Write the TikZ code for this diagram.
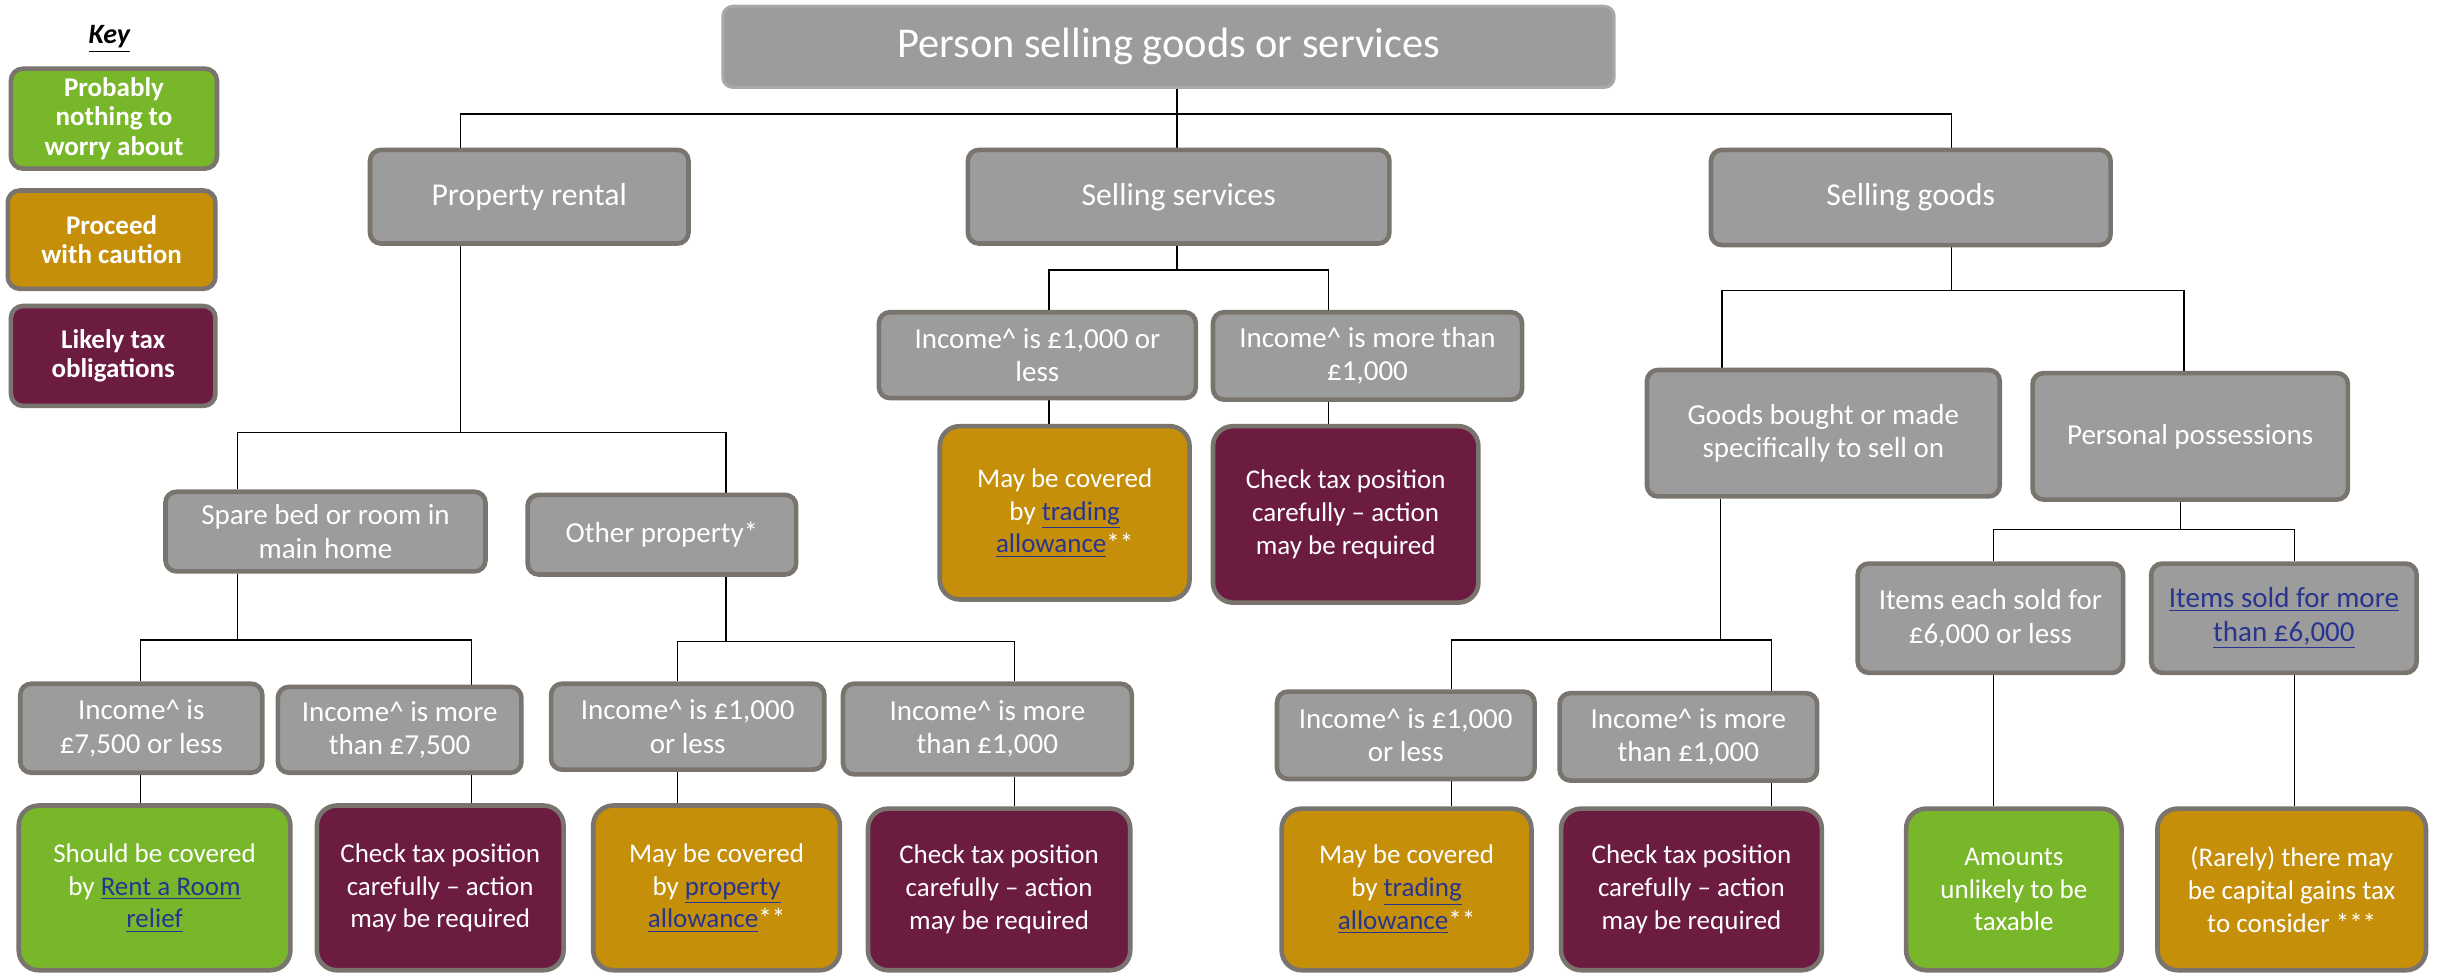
\documentclass[tikz,border=0pt]{standalone}
\usepackage{fontspec}
\setmainfont{Carlito}
\usetikzlibrary{backgrounds}
\definecolor{gfill}{HTML}{9C9C9C}
\definecolor{bcol}{HTML}{7A746E}
\definecolor{tborder}{HTML}{A9A9A9}
\definecolor{cgreen}{HTML}{78B72A}
\definecolor{corange}{HTML}{C58F0A}
\definecolor{cmaroon}{HTML}{6C1B41}
\definecolor{linkblue}{HTML}{27358F}
\newcommand\lnk[1]{{\color{linkblue}\underline{#1}}}
\newcommand\bx[7]{%
  \pgfmathsetmacro\bxw{(#4-#2)*0.7805}%
  \pgfmathsetmacro\bxh{(#5-#3)*0.7805}%
  \node[#6, minimum width=\bxw pt, minimum height=\bxh pt] (#1) at ({(#2+#4)/2},{(#3+#5)/2}) {#7};}
\tikzset{
  gbox/.style={draw=bcol, line width=2.3pt, fill=gfill, rounded corners=5.5pt, text=white,
    align=center, inner sep=0pt, font=\fontsize{14.5}{16.8}\selectfont},
  midbox/.style={gbox, font=\fontsize{15.9}{19}\selectfont},
  leaf/.style={draw=bcol, line width=2.3pt, rounded corners=10pt, text=white,
    align=center, inner sep=0pt, font=\fontsize{13.5}{16.4}\selectfont},
  keybox/.style={draw=bcol, line width=2.3pt, rounded corners=6pt, text=white,
    align=center, inner sep=0pt, font=\fontsize{13.5}{14.8}\selectfont\bfseries},
  titlebox/.style={fill=gfill, draw=tborder, line width=1.5pt, rounded corners=5pt, text=white,
    inner sep=0pt, font=\fontsize{21.2}{25}\selectfont},
  conn/.style={draw=black, line width=0.6pt},
}
\begin{document}
\begin{tikzpicture}[x=0.7805pt, y=-0.7805pt]
\useasboundingbox (0,0) rectangle (1563,623.3);
% key
\node[font=\fontsize{14}{16}\selectfont\bfseries\itshape] (key) at (70,25) {\underline{Key}};
\bx{k1}{7}{44}{139}{108}{keybox,fill=cgreen}{Probably\\nothing to\\worry about}
\bx{k2}{5}{122}{138}{185}{keybox,fill=corange}{Proceed\\with caution}
\bx{k3}{7}{196}{138}{260}{keybox,fill=cmaroon}{Likely tax\\obligations}
% title
\bx{t}{463}{4}{1034}{56}{titlebox}{Person selling goods or services}
% level 1
\bx{pr}{237}{96}{441}{156}{midbox}{Property rental}
\bx{ss}{620}{96}{890}{156}{midbox}{Selling services}
\bx{sg}{1096}{96}{1352}{157}{midbox}{Selling goods}
% property
\bx{sb}{106}{315}{311}{366}{gbox}{Spare bed or room in\\main home}
\bx{op}{338}{317}{510}{368}{gbox}{Other property*}
\bx{i1}{13}{438}{168}{495}{gbox}{Income\textasciicircum{} is\\£7,500 or less}
\bx{i2}{178}{440}{334}{495}{gbox}{Income\textasciicircum{} is more\\than £7,500}
\bx{i3}{353}{438}{528}{493}{gbox}{Income\textasciicircum{} is £1,000\\or less}
\bx{i4}{540}{438}{725}{496}{gbox}{Income\textasciicircum{} is more\\than £1,000}
\bx{l1}{12}{516}{186}{621.5}{leaf,fill=cgreen}{Should be covered\\by \lnk{Rent a Room}\\\lnk{relief}}
\bx{l2}{203}{516}{361}{621.5}{leaf,fill=cmaroon}{Check tax position\\carefully – action\\may be required}
\bx{l3}{380}{516}{538}{621.5}{leaf,fill=corange}{May be covered\\by \lnk{property}\\\lnk{allowance}**}
\bx{l4}{556}{518}{724}{621.5}{leaf,fill=cmaroon}{Check tax position\\carefully – action\\may be required}
% services
\bx{s1}{563}{200}{766}{255}{gbox}{Income\textasciicircum{} is £1,000 or\\less}
\bx{s2}{777}{200}{975}{256}{gbox}{Income\textasciicircum{} is more than\\£1,000}
\bx{s3}{602}{273}{762}{384}{leaf,fill=corange}{May be covered\\by \lnk{trading}\\\lnk{allowance}**}
\bx{s4}{777}{273}{947}{386}{leaf,fill=cmaroon}{Check tax position\\carefully – action\\may be required}
% goods
\bx{gb}{1055}{237}{1281}{318}{gbox}{Goods bought or made\\specifically to sell on}
\bx{pp}{1302}{239}{1504}{320}{gbox}{Personal possessions}
\bx{g1}{818}{443}{983}{499}{gbox}{Income\textasciicircum{} is £1,000\\or less}
\bx{g2}{999}{444}{1164}{500}{gbox}{Income\textasciicircum{} is more\\than £1,000}
\bx{g3}{821}{518}{981}{621.5}{leaf,fill=corange}{May be covered\\by \lnk{trading}\\\lnk{allowance}**}
\bx{g4}{1000}{518}{1167}{621.5}{leaf,fill=cmaroon}{Check tax position\\carefully – action\\may be required}
\bx{p1}{1190}{361}{1360}{431}{gbox}{Items each sold for\\£6,000 or less}
\bx{p2}{1378}{361}{1548}{431}{gbox}{\lnk{Items sold for more}\\\lnk{than £6,000}}
\bx{a1}{1221}{518}{1359}{621.5}{leaf,fill=cgreen}{Amounts\\unlikely to be\\taxable}
\bx{a2}{1382}{518}{1554}{621.5}{leaf,fill=corange}{(Rarely) there may\\be capital gains tax\\to consider ***}
% connectors
\begin{scope}[on background layer]
\coordinate (j0) at (754,73);
\draw[conn] (t.south -| j0) -- (j0);
\draw[conn] (pr.north -| 295,0) |- (j0);
\draw[conn] (ss.north -| j0) -- (j0);
\draw[conn] (sg.north -| 1250,0) |- (j0);
\coordinate (j1) at (295,277);
\draw[conn] (pr.south -| j1) -- (j1);
\draw[conn] (sb.north -| 152,0) |- (j1);
\draw[conn] (op.north -| 465,0) |- (j1);
\coordinate (j2) at (152,410);
\draw[conn] (sb.south -| j2) -- (j2);
\draw[conn] (i1.north -| 90,0) |- (j2);
\draw[conn] (i2.north -| 302,0) |- (j2);
\coordinate (j3) at (465,411);
\draw[conn] (op.south -| j3) -- (j3);
\draw[conn] (i3.north -| 434,0) |- (j3);
\draw[conn] (i4.north -| 650,0) |- (j3);
\draw[conn] (i1.south -| 90,0) -- (l1.north -| 90,0);
\draw[conn] (i2.south -| 302,0) -- (l2.north -| 302,0);
\draw[conn] (i3.south -| 434,0) -- (l3.north -| 434,0);
\draw[conn] (i4.south -| 650,0) -- (l4.north -| 650,0);
\coordinate (j4) at (754,173);
\draw[conn] (ss.south -| j4) -- (j4);
\draw[conn] (s1.north -| 672,0) |- (j4);
\draw[conn] (s2.north -| 851,0) |- (j4);
\draw[conn] (s1.south -| 672,0) -- (s3.north -| 672,0);
\draw[conn] (s2.south -| 851,0) -- (s4.north -| 851,0);
\coordinate (j5) at (1250,186);
\draw[conn] (sg.south -| j5) -- (j5);
\draw[conn] (gb.north -| 1103,0) |- (j5);
\draw[conn] (pp.north -| 1399,0) |- (j5);
\coordinate (j6) at (1102,410);
\draw[conn] (gb.south -| j6) -- (j6);
\draw[conn] (g1.north -| 930,0) |- (j6);
\draw[conn] (g2.north -| 1135,0) |- (j6);
\draw[conn] (g1.south -| 930,0) -- (g3.north -| 930,0);
\draw[conn] (g2.south -| 1135,0) -- (g4.north -| 1135,0);
\coordinate (j7) at (1397,339);
\draw[conn] (pp.south -| j7) -- (j7);
\draw[conn] (p1.north -| 1277,0) |- (j7);
\draw[conn] (p2.north -| 1470,0) |- (j7);
\draw[conn] (p1.south -| 1277,0) -- (a1.north -| 1277,0);
\draw[conn] (p2.south -| 1470,0) -- (a2.north -| 1470,0);
\end{scope}
\end{tikzpicture}
\end{document}
